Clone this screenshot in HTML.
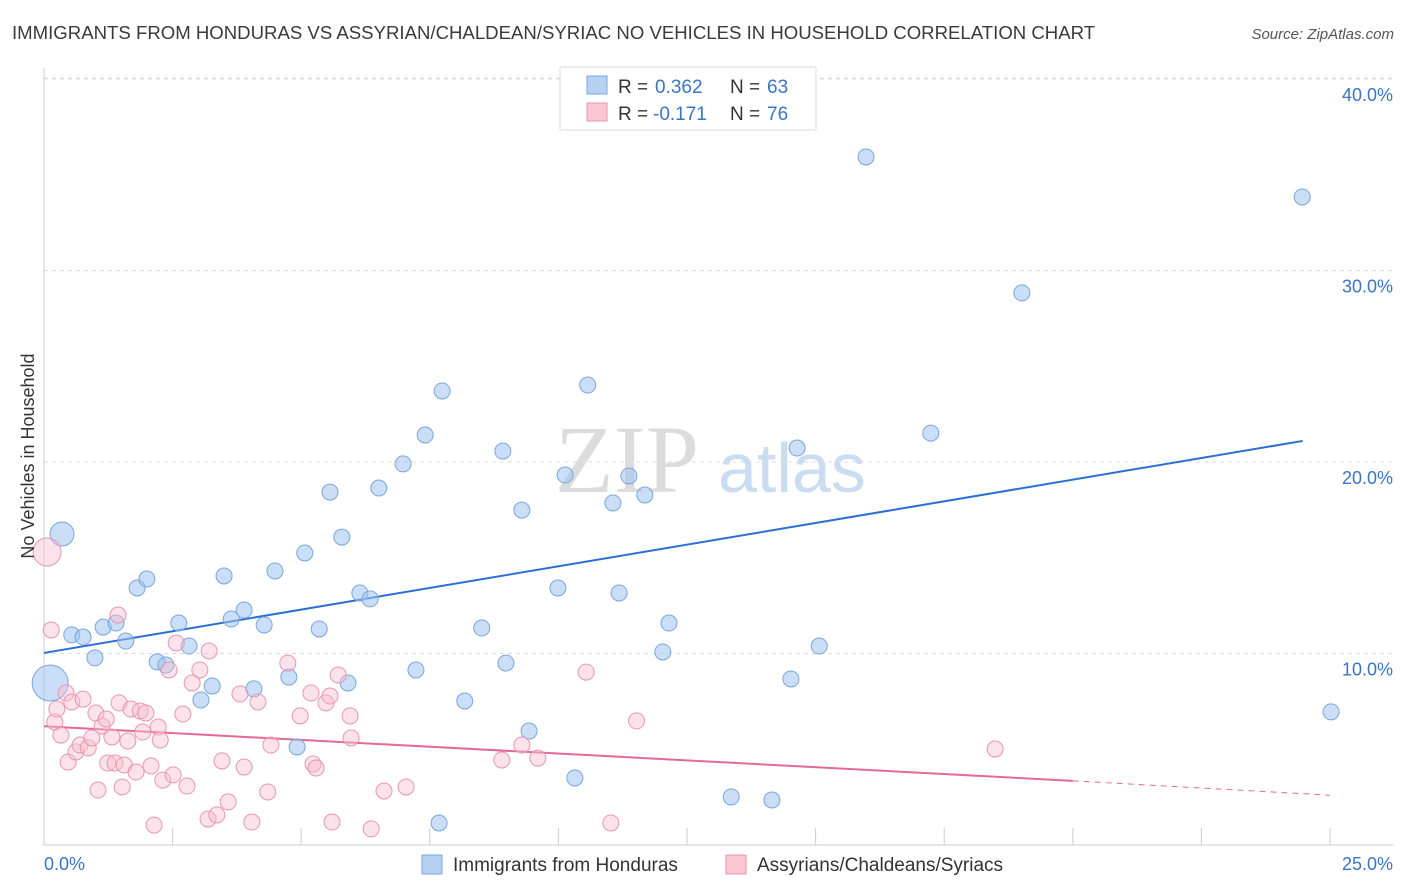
<!DOCTYPE html>
<html><head><meta charset="utf-8"><style>
body{margin:0;background:#fff;font-family:"Liberation Sans",sans-serif;}
svg{display:block}
</style></head><body>
<svg id="chart" width="1406" height="892" xmlns="http://www.w3.org/2000/svg">
<text x="12" y="39" font-size="18.6" fill="#3a3a3a">IMMIGRANTS FROM HONDURAS VS ASSYRIAN/CHALDEAN/SYRIAC NO VEHICLES IN HOUSEHOLD CORRELATION CHART</text>
<text x="1394" y="39" font-size="15" fill="#555" font-style="italic" text-anchor="end">Source: ZipAtlas.com</text>
<g>
<text x="555" y="492" font-size="96" font-family="Liberation Serif,serif" fill="#dcdcdc">ZIP</text>
<text x="718" y="492" font-size="70" fill="#c9dcf2">atlas</text>
</g>
<g id="grid"></g>
<g id="axes"></g>
<g id="lines"></g>
<g id="points"></g>
<text transform="translate(34,456) rotate(-90)" font-size="18" fill="#333" text-anchor="middle">No Vehicles in Household</text>
<g>
<rect x="560" y="67" width="256" height="63" fill="#fff" stroke="#ddd"/>
<rect x="587" y="76" width="20" height="18" fill="#b7d1f2" stroke="#7aa6dc"/>
<rect x="587" y="103" width="20" height="18" fill="#f9c6d4" stroke="#e896b0"/>
<text x="618" y="93" font-size="19" fill="#333">R =</text>
<text x="655" y="93" font-size="19" fill="#3a75c4">0.362</text>
<text x="730" y="93" font-size="19" fill="#333">N =</text>
<text x="767" y="93" font-size="19" fill="#3a75c4">63</text>
<text x="618" y="120" font-size="19" fill="#333">R =</text>
<text x="653" y="120" font-size="19" fill="#3a75c4">-0.171</text>
<text x="730" y="120" font-size="19" fill="#333">N =</text>
<text x="767" y="120" font-size="19" fill="#3a75c4">76</text>
</g>
<g>
<rect x="422" y="855" width="20" height="19" fill="#b7d1f2" stroke="#7aa6dc"/>
<text x="453" y="871" font-size="19" fill="#333">Immigrants from Honduras</text>
<rect x="726" y="855" width="20" height="19" fill="#f9c6d4" stroke="#e896b0"/>
<text x="757" y="871" font-size="19" fill="#333">Assyrians/Chaldeans/Syriacs</text>
</g>
</svg>
<script>
const yTicks=[10,20,30,40];
const yTickLabels=["10.0%","20.0%","30.0%","40.0%"];
const xTicks=[0,2.5,5,7.5,10,12.5,15,17.5,20,22.5,25];
const xTickLabels=["0.0%","25.0%"];
const blueX=[0.35,0.12,0.54,0.76,0.99,1.15,1.40,1.59,1.81,2.00,2.20,2.37,2.62,2.82,3.05,3.27,3.50,3.64,3.89,4.08,4.28,4.49,4.76,4.92,5.07,5.35,5.56,5.79,5.91,6.14,6.34,6.51,6.98,7.23,7.41,7.68,7.74,8.18,8.51,8.92,8.98,9.29,9.43,9.99,10.13,10.32,10.57,11.06,11.18,11.37,11.68,12.03,12.15,13.36,14.15,14.52,14.64,15.07,15.98,17.24,19.01,24.46,25.02];
const blueY=[16.24,8.46,10.97,10.86,9.77,11.38,11.59,10.65,13.42,13.89,9.56,9.40,11.59,10.39,7.57,8.30,14.05,11.80,12.27,8.15,11.49,14.31,8.77,5.12,15.25,11.28,18.43,16.08,8.46,13.16,12.85,18.64,19.90,9.14,21.41,1.15,23.71,7.52,11.33,20.57,9.50,17.49,5.95,13.42,19.32,3.50,24.02,17.86,13.16,19.27,18.28,10.08,11.59,2.51,2.35,8.67,20.73,10.39,35.93,21.51,28.83,33.84,6.95];
const blueSize=[12,18];
const pinkX=[0.06,0.14,0.21,0.25,0.33,0.43,0.47,0.54,0.62,0.70,0.76,0.86,0.93,1.01,1.05,1.13,1.21,1.24,1.32,1.38,1.44,1.46,1.52,1.56,1.63,1.69,1.79,1.87,1.92,1.98,2.08,2.14,2.22,2.26,2.31,2.43,2.51,2.57,2.70,2.78,2.88,3.03,3.19,3.21,3.36,3.46,3.58,3.81,3.89,4.04,4.16,4.35,4.41,4.74,4.98,5.19,5.23,5.29,5.48,5.56,5.60,5.72,5.95,5.97,6.36,6.61,7.04,8.90,9.29,9.60,10.54,11.02,11.52,18.49];
const pinkY=[15.30,11.23,6.42,7.10,5.74,7.94,4.33,7.47,4.86,5.22,7.62,5.07,5.59,6.89,2.87,6.21,6.58,4.28,5.64,4.28,12.01,7.42,3.03,4.18,5.43,7.10,3.81,7.00,5.90,6.89,4.13,1.04,6.16,5.48,3.39,9.14,3.66,10.55,6.84,3.08,8.46,9.14,1.36,10.13,1.57,4.39,2.25,7.89,4.07,1.20,7.47,2.77,5.22,9.50,6.74,7.94,4.23,4.02,7.42,7.78,1.20,8.88,6.74,5.59,0.84,2.82,3.03,4.44,5.22,4.54,9.03,1.15,6.48,5.01];
const blueTrend=[[0,10.03],[24.47,21.1]];
const pinkTrend=[[0,6.2],[20,3.35],[25,2.6]];
const NS="http://www.w3.org/2000/svg";
const sx=v=>44+v*51.44, sy=v=>845-v*19.15;
function mk(tag,attrs,parent){const e=document.createElementNS(NS,tag);for(const k in attrs)e.setAttribute(k,attrs[k]);parent.appendChild(e);return e;}
const gridG=document.getElementById('grid'),axesG=document.getElementById('axes');
yTicks.forEach((t,i)=>{
 const l=mk('line',{x1:44,x2:1393,y1:sy(t),y2:sy(t),stroke:'#ddd','stroke-dasharray':'4,4'},gridG);
 
 
 const tx=mk('text',{x:1393,y:sy(t)+22,'font-size':18,fill:'#3a75c4','text-anchor':'end'},axesG);
 tx.textContent=yTickLabels[i];
 
 
});
const topGrid=mk('line',{x1:44,x2:1393,y1:78,y2:78,stroke:'#ddd','stroke-dasharray':'4,4'},gridG);


const ya=mk('line',{x1:44,x2:44,y1:68,y2:845,stroke:'#ccc'},axesG);


const xa=mk('line',{x1:44,x2:1393,y1:845,y2:845,stroke:'#ccc'},axesG);


xTicks.forEach(t=>{
 const l=mk('line',{x1:sx(t),x2:sx(t),y1:828,y2:845,stroke:'#ccc'},axesG);
 
 
});
const xl0=mk('text',{x:44,y:870,'font-size':18,fill:'#3a75c4'},axesG);xl0.textContent=xTickLabels[0];


const xl1=mk('text',{x:1393,y:870,'font-size':18,fill:'#3a75c4','text-anchor':'end'},axesG);xl1.textContent=xTickLabels[1];


const pts=document.getElementById('points');
blueX.forEach((x,i)=>{
 const c=mk('circle',{cx:sx(x),cy:sy(blueY[i]),r:blueSize[i]||8,fill:'rgba(160,195,240,0.55)',stroke:'#7aa6dc','stroke-width':1},pts);
 
 
});
pinkX.forEach((x,i)=>{
 const c=mk('circle',{cx:sx(x),cy:sy(pinkY[i]),r:i===0?14:8,fill:'rgba(248,190,208,0.45)',stroke:'#e896b0','stroke-width':1},pts);
 
 
});
const linesG=document.getElementById('lines');
const bl=mk('line',{x1:sx(blueTrend[0][0]),y1:sy(blueTrend[0][1]),x2:sx(blueTrend[1][0]),y2:sy(blueTrend[1][1]),stroke:'#2b6fd6','stroke-width':2},linesG);


const pl=mk('line',{x1:sx(pinkTrend[0][0]),y1:sy(pinkTrend[0][1]),x2:sx(pinkTrend[1][0]),y2:sy(pinkTrend[1][1]),stroke:'#e5689a','stroke-width':2},linesG);


const pd=mk('line',{x1:sx(pinkTrend[1][0]),y1:sy(pinkTrend[1][1]),x2:sx(pinkTrend[2][0]),y2:sy(pinkTrend[2][1]),stroke:'#e5689a','stroke-width':1,'stroke-dasharray':'6,5'},linesG);


</script>
</body></html>
